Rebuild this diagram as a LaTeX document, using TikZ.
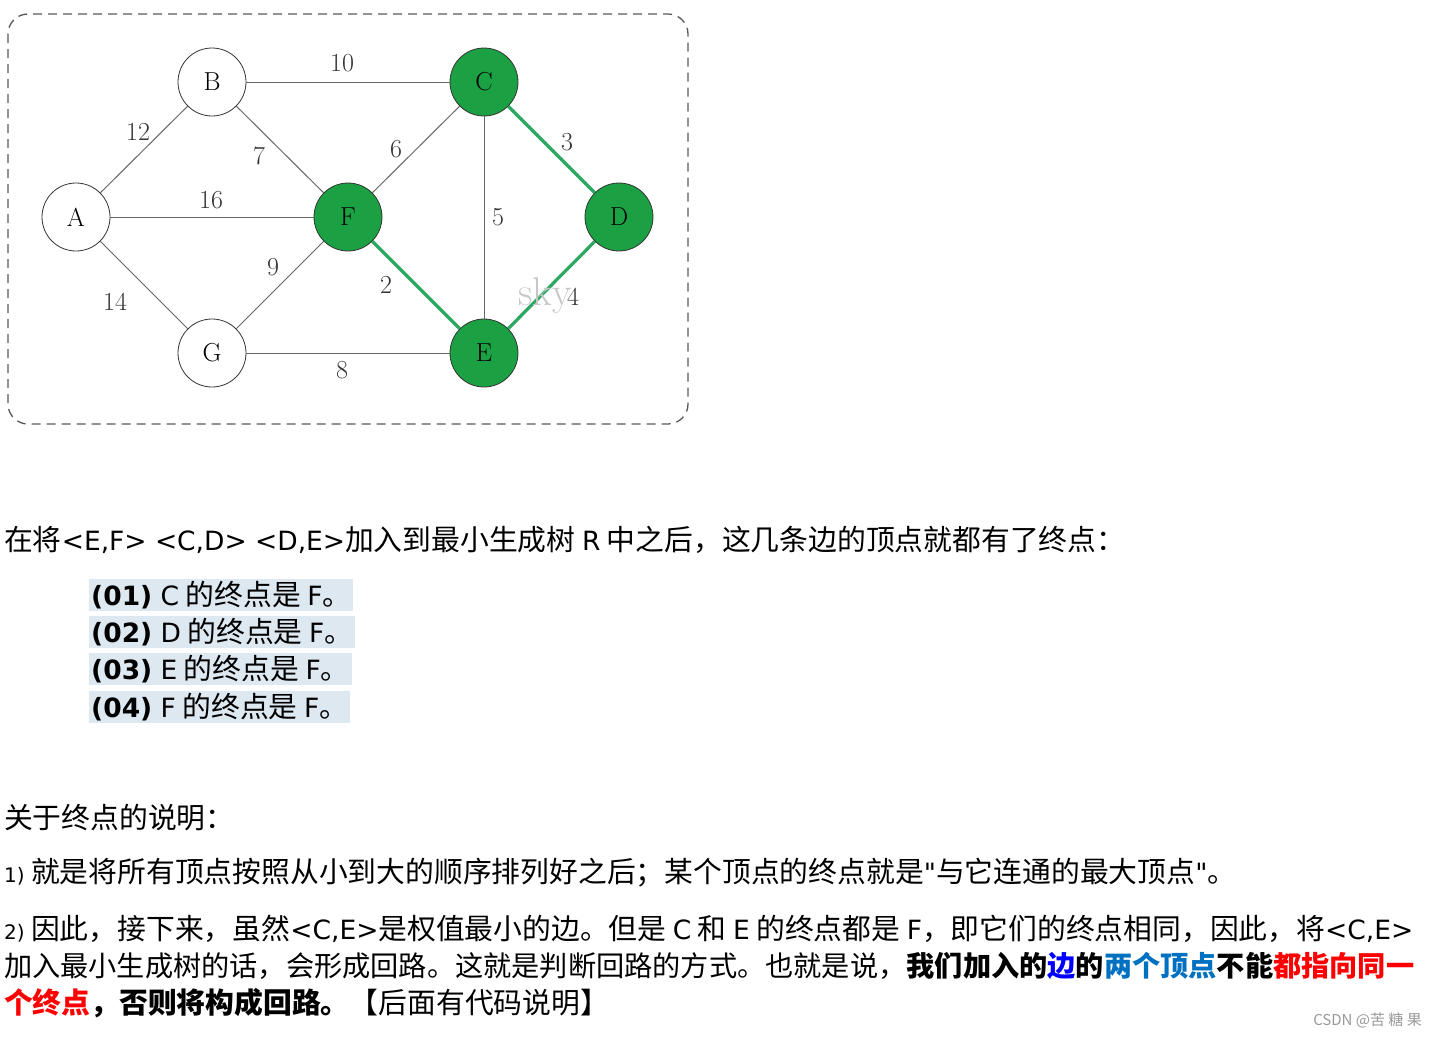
\documentclass[tikz,border=0pt]{standalone}
\usepackage{fontspec}
\newfontfamily\cjk{Noto Sans CJK SC}
\newfontfamily\latf{DejaVu Sans}
\newcommand{\lt}[1]{{\latf\fontsize{26.5}{26.5}\selectfont #1}}
\definecolor{gfill}{HTML}{1BA043}
\definecolor{gedge}{HTML}{2DA862}
\definecolor{hl}{HTML}{DDE8F1}
\definecolor{blu}{HTML}{0070C0}
\tikzset{
 vtx/.style={circle,draw=black!80,line width=0.8pt,minimum size=68pt,inner sep=0pt,font=\fontsize{26}{26}\selectfont},
 gv/.style={vtx,fill=gfill},
 edg/.style={draw=black!60,line width=1pt},
 gedg/.style={draw=gedge,line width=3.2pt},
 wl/.style={font=\fontsize{26}{26}\selectfont,text=black!80},
 txt/.style={anchor=west,inner sep=0pt,font=\cjk\fontsize{28.8}{28.8}\selectfont},
 hlt/.style={anchor=west,inner sep=2pt,fill=hl,font=\cjk\fontsize{28.8}{28.8}\selectfont}
}
\begin{document}
\begin{tikzpicture}[x=1pt,y=-1pt]
\useasboundingbox (0,0) rectangle (1437,1037);
\draw[dashed,line width=1.3pt,draw=black!65,dash pattern=on 9pt off 6pt,rounded corners=20pt] (8,14) rectangle (688,424);
\node[vtx] (B) at (212,82) {B};
\node[gv] (C) at (484,82) {C};
\node[vtx] (A) at (76,217) {A};
\node[gv] (F) at (348,217) {F};
\node[gv] (D) at (619,217) {D};
\node[vtx] (G) at (212,353) {G};
\node[gv] (E) at (484,353) {E};
\draw[edg] (B)--(C); \draw[edg] (A)--(B); \draw[edg] (B)--(F);
\draw[edg] (A)--(F); \draw[edg] (A)--(G); \draw[edg] (F)--(C);
\draw[edg] (C)--(E); \draw[edg] (G)--(F); \draw[edg] (G)--(E);
\draw[gedg] (C)--(D); \draw[gedg] (D)--(E); \draw[gedg] (F)--(E);
\node[font=\fontsize{40}{40}\selectfont,text=black!22] (wm) at (545,296) {sky};
\node[wl] (l10) at (342,63) {10};
\node[wl] (l12) at (138,132) {12};
\node[wl] (l7) at (259,156) {7};
\node[wl] (l6) at (396,149) {6};
\node[wl] (l3) at (567,142) {3};
\node[wl] (l16) at (211,200) {16};
\node[wl] (l5) at (498,217) {5};
\node[wl] (l9) at (273,267) {9};
\node[wl] (l2) at (386,285) {2};
\node[wl] (l4) at (573,297) {4};
\node[wl] (l14) at (115,302) {14};
\node[wl] (l8) at (342,370) {8};
\node[txt] (t1) at (4,540) {在将\lt{<E,F> <C,D> <D,E>}加入到最小生成树 \lt{R} 中之后，这几条边的顶点就都有了终点：};
\node[hlt] (h1) at (89,595) {\lt{\textbf{(01)} C} 的终点是 \lt{F}。};
\node[hlt] (h2) at (89,632) {\lt{\textbf{(02)} D} 的终点是 \lt{F}。};
\node[hlt] (h3) at (89,669) {\lt{\textbf{(03)} E} 的终点是 \lt{F}。};
\node[hlt] (h4) at (89,707) {\lt{\textbf{(04)} F} 的终点是 \lt{F}。};
\node[txt] (t2) at (4,818) {关于终点的说明：};
\node[txt] (t3) at (4,873) {{\latf\fontsize{20}{20}\selectfont 1)} 就是将所有顶点按照从小到大的顺序排列好之后；某个顶点的终点就是\lt{"}与它连通的最大顶点\lt{"}。};
\node[txt] (t4) at (4,929) {{\latf\fontsize{20}{20}\selectfont 2)} 因此，接下来，虽然\lt{<C,E>}是权值最小的边。但是 \lt{C} 和 \lt{E} 的终点都是 \lt{F}，即它们的终点相同，因此，将\lt{<C,E>}};
\node[txt,font=\cjk\fontsize{28.2}{28.2}\selectfont] (t5) at (4,966) {加入最小生成树的话，会形成回路。这就是判断回路的方式。也就是说，\textbf{我们加入的\textcolor{blue}{边}的\textcolor{blu}{两个顶点}不能\textcolor{red}{都指向同一}}};
\node[txt] (t6) at (4,1003) {\textbf{\textcolor{red}{个终点}，否则将构成回路。}【后面有代码说明】};
\node[anchor=east,inner sep=0pt,font=\cjk\fontsize{15}{15}\selectfont,text=black!40] (wm2) at (1422,1020) {CSDN @苦 糖 果};
\end{tikzpicture}
\end{document}
